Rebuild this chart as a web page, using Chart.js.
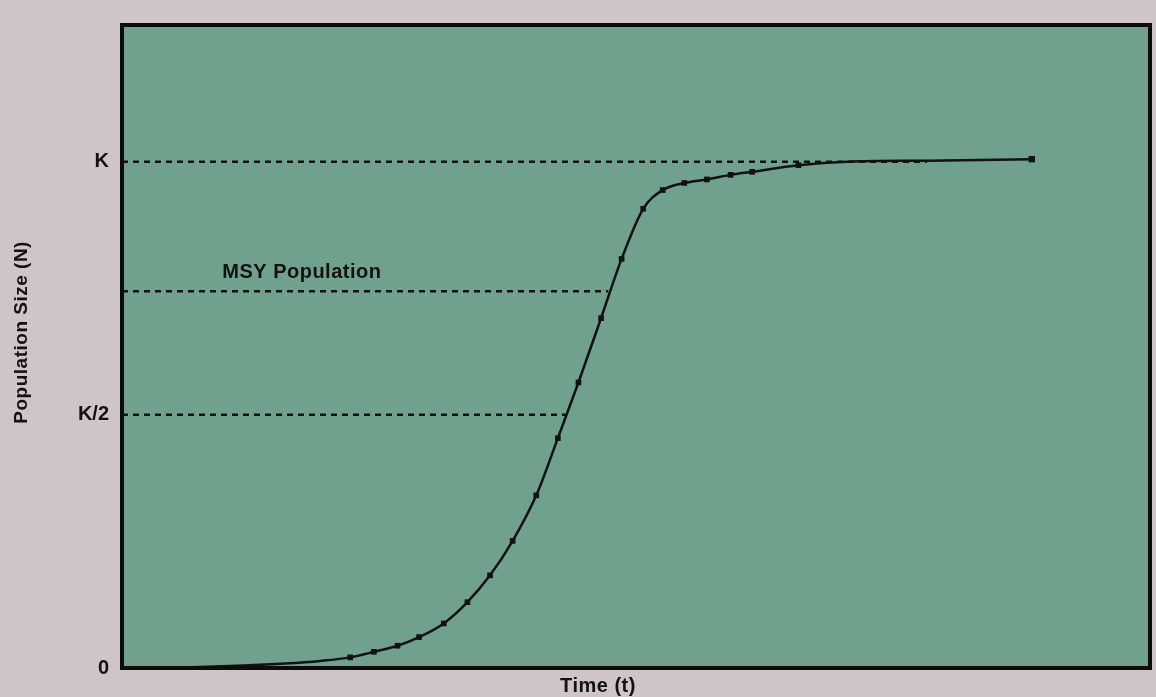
<!DOCTYPE html>
<html>
<head>
<meta charset="utf-8">
<title>Population Size (N) vs Time (t)</title>
<script src="https://cdn.jsdelivr.net/npm/chart.js@4.4.0/dist/chart.umd.min.js"></script>
<style>
  html, body { margin: 0; padding: 0; background: #cfc4c8; }
  #wrap { width: 1156px; height: 697px; }
</style>
</head>
<body>
<div id="wrap"><canvas id="myChart" width="1156" height="697"></canvas></div>
<script>
// logistic growth curve (K = 100)
var curveTime = [0, 7.6, 15.9, 19.3, 22.2, 24.5, 26.8, 28.9, 31.3, 33.6, 35.8, 38.0, 40.3, 42.4, 44.4, 46.6, 48.6, 50.7, 52.6, 54.7, 56.9, 59.2, 61.3, 65.8, 70.5, 78.3, 88.5];
var curveN    = [0, 0.2, 0.9, 1.4, 2.1, 3.2, 4.4, 6.1, 8.8, 13.0, 18.3, 25.1, 34.1, 45.4, 56.4, 69.1, 80.8, 90.7, 94.4, 95.8, 96.5, 97.4, 98.0, 99.3, 100.0, 100.2, 100.5];

// the sample points that carry a marker
var markTime = [22.2, 24.5, 26.8, 28.9, 31.3, 33.6, 35.8, 38.0, 40.3, 42.4, 44.4, 46.6, 48.6, 50.7, 52.6, 54.7, 56.9, 59.2, 61.3, 65.8, 88.5];
var markN    = [2.1, 3.2, 4.4, 6.1, 8.8, 13.0, 18.3, 25.1, 34.1, 45.4, 56.4, 69.1, 80.8, 90.7, 94.4, 95.8, 96.5, 97.4, 98.0, 99.3, 100.5];

// dashed reference levels and the time where each one meets the curve
var refNames = ["K", "MSY Population", "K/2"];
var refN     = [100, 74.4, 50];
var refEnd   = [78.3, 47.3, 43.2];

var yTickValues = [0, 50, 100];
var yTickLabels = ["0", "K/2", "K"];

var plotColor = "#6fa18c";
var inkColor = "#121212";
var fontFamily = "'Liberation Sans', Arial, sans-serif";

const paperFrame = {
  id: "paperFrame",
  beforeDraw(chart) {
    const { ctx, chartArea: a } = chart;
    ctx.save();
    ctx.fillStyle = plotColor;
    ctx.fillRect(a.left, a.top, a.right - a.left, a.bottom - a.top);
    ctx.restore();
  },
  afterDatasetsDraw(chart) {
    const { ctx, chartArea: a, scales } = chart;
    ctx.save();
    ctx.strokeStyle = "#0c0c0c";
    ctx.lineWidth = 4;
    ctx.strokeRect(a.left, a.top, a.right - a.left, a.bottom - a.top);

    ctx.fillStyle = inkColor;
    ctx.font = "bold 20px " + fontFamily;
    ctx.letterSpacing = "0.5px";

    // label above the MSY line
    ctx.textAlign = "left";
    ctx.textBaseline = "alphabetic";
    ctx.fillText(refNames[1], scales.x.getPixelForValue(9.75), scales.y.getPixelForValue(refN[1]) - 13);

    // axis titles
    ctx.textAlign = "center";
    ctx.textBaseline = "middle";
    ctx.fillText("Time (t)", a.left + (a.right - a.left) * 0.463, a.bottom + 18);

    ctx.font = "bold 19px " + fontFamily;
    ctx.translate(22, a.top + (a.bottom - a.top) * 0.478);
    ctx.rotate(-Math.PI / 2);
    ctx.fillText("Population Size (N)", 0, 0);
    ctx.restore();
  }
};

function pairs(xs, ys) {
  return xs.map((t, i) => ({ x: t, y: ys[i] }));
}

var refSets = refN.map((n, i) => ({
  label: refNames[i],
  data: [{ x: 0, y: n }, { x: refEnd[i], y: n }],
  borderColor: inkColor,
  borderWidth: 2.5,
  borderDash: [6, 5],
  pointRadius: 0,
  order: 3
}));

new Chart("myChart", {
  type: "line",
  data: {
    datasets: [
      {
        label: "N",
        data: pairs(curveTime, curveN),
        borderColor: inkColor,
        borderWidth: 2.5,
        cubicInterpolationMode: "monotone",
        pointRadius: 0,
        order: 2
      },
      {
        label: "samples",
        data: pairs(markTime, markN),
        showLine: false,
        pointStyle: "rect",
        pointRadius: (c) => c.dataIndex === markTime.length - 1 ? 4.5 : 4,
        backgroundColor: inkColor,
        borderColor: inkColor,
        borderWidth: 0,
        order: 1
      }
    ].concat(refSets)
  },
  options: {
    responsive: false,
    animation: false,
    layout: { padding: { top: 24, right: 6, left: 0, bottom: 0 } },
    plugins: {
      legend: { display: false },
      tooltip: { enabled: false }
    },
    scales: {
      x: {
        type: "linear",
        min: 0,
        max: 100,
        grid: { display: false, drawTicks: false },
        border: { display: false },
        ticks: { display: false },
        afterFit(s) { s.height = 29; }
      },
      y: {
        min: 0,
        max: 127,
        grid: { display: false, drawTicks: false },
        border: { display: false },
        afterBuildTicks(s) { s.ticks = yTickValues.map(v => ({ value: v })); },
        ticks: {
          padding: 13,
          color: inkColor,
          font: { family: fontFamily, size: 20, weight: "bold" },
          callback: (v, i) => yTickLabels[i]
        },
        afterFit(s) { s.width = 122; }
      }
    }
  },
  plugins: [paperFrame]
});
</script>
</body>
</html>
